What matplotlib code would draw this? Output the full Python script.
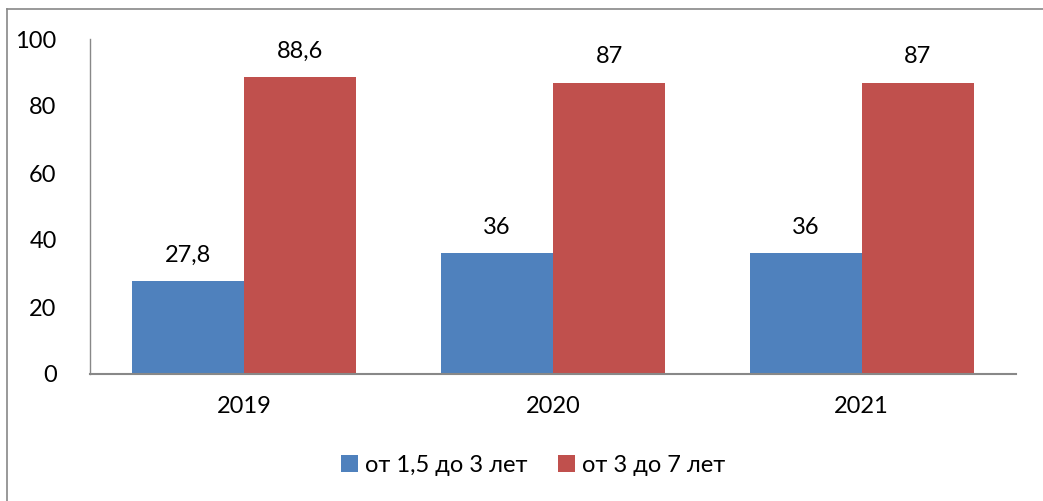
import matplotlib
matplotlib.use("Agg")
import matplotlib.pyplot as plt
from matplotlib.lines import Line2D
import numpy as np

years = ["2019", "2020", "2021"]
series_names = ["от 1,5 до 3 лет", "от 3 до 7 лет"]
young = [27.8, 36, 36]
older = [88.6, 87, 87]
young_labels = ["27,8", "36", "36"]
older_labels = ["88,6", "87", "87"]
yticks = [0, 20, 40, 60, 80, 100]

plt.rcParams['font.family'] = ['Lato', 'DejaVu Sans']
FS = 17

fig = plt.figure(figsize=(10.43, 5.01), dpi=100)
ax = fig.add_axes([90/1043, 1 - 374/501, (1016-90)/1043, (374-39)/501])

x = np.arange(len(years))
w = 0.363
b1 = ax.bar(x - w/2, young, w, color="#4F81BD", label=series_names[0])
b2 = ax.bar(x + w/2, older, w, color="#C0504D", label=series_names[1])

for bars, labs in ((b1, young_labels), (b2, older_labels)):
    for rect, lab in zip(bars, labs):
        ax.annotate(lab, (rect.get_x() + rect.get_width()/2, rect.get_height()),
                    xytext=(0, 18.5), textcoords="offset points", ha="center", va="center",
                    fontsize=FS)

ax.set_xlim(-0.5, 2.5)
ax.set_ylim(0, 100)
ax.set_yticks(yticks)
ax.set_yticklabels([str(v) for v in yticks], fontsize=FS)
ax.set_xticks(x)
ax.set_xticklabels(years, fontsize=FS)
ax.tick_params(axis="both", length=0)
ax.tick_params(axis="y", pad=24)
ax.tick_params(axis="x", pad=16)
for s in ["top", "right"]:
    ax.spines[s].set_visible(False)
ax.spines["left"].set_color("#888888")
ax.spines["bottom"].set_color("#888888")
ax.spines["left"].set_linewidth(1.0)
ax.spines["bottom"].set_linewidth(1.5)

leg = fig.legend(handles=[b1, b2], labels=series_names, loc="center",
                 bbox_to_anchor=(533/1043, 1 - 465/501), ncol=2, frameon=False,
                 fontsize=FS, handlelength=0.7, handleheight=0.7, columnspacing=1.3,
                 handletextpad=0.3)

# outer border (left and top visible)
fig.add_artist(Line2D([7/1043, 7/1043], [0, 1 - 9/501], transform=fig.transFigure,
                      color="#888888", linewidth=1.2))
fig.add_artist(Line2D([7/1043, 1], [1 - 9/501, 1 - 9/501], transform=fig.transFigure,
                      color="#888888", linewidth=1.2))

fig.savefig("out.png", dpi=100)
